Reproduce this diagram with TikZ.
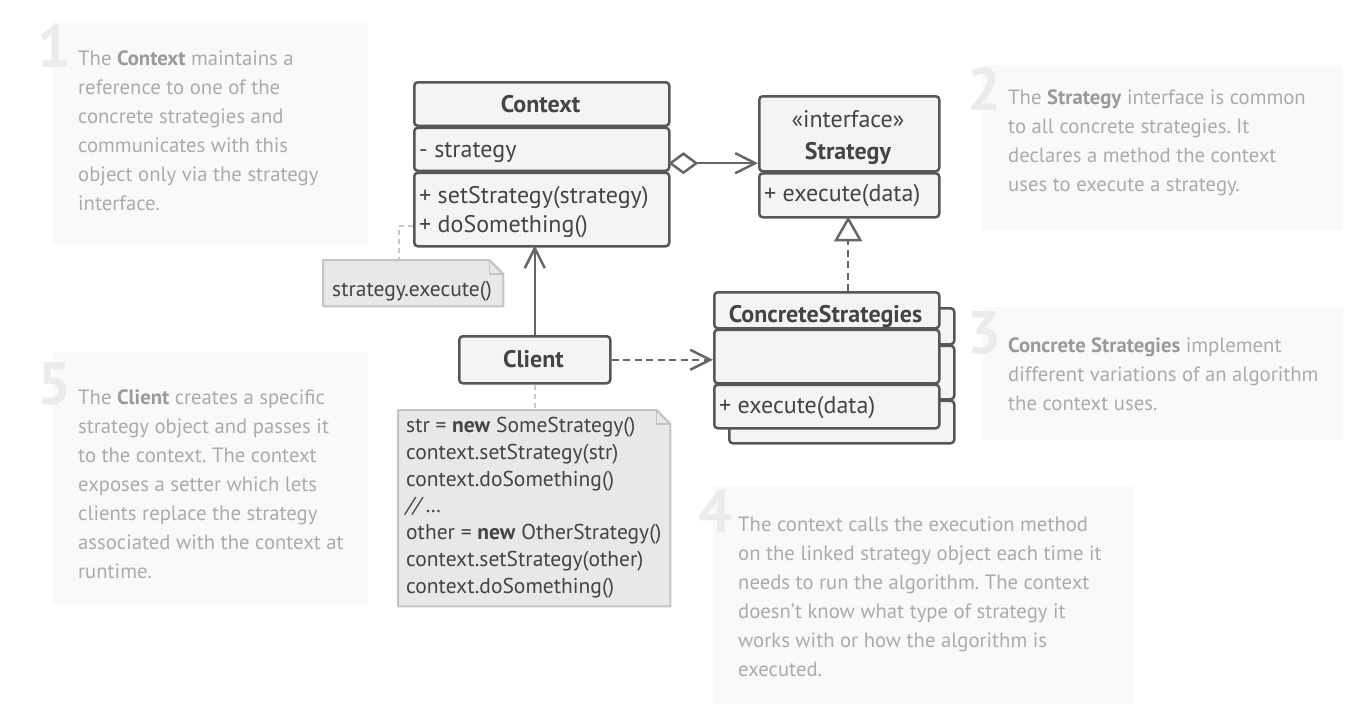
\documentclass[tikz,border=0pt]{standalone}
\usepackage{fontspec}
\setmainfont{PT Sans}
\usetikzlibrary{arrows.meta,calc}
\definecolor{panel}{HTML}{F9F9F9}
\definecolor{numc}{HTML}{EBEBEB}
\definecolor{desc}{HTML}{ABABAB}
\definecolor{descb}{HTML}{9A9A9A}
\definecolor{boxline}{HTML}{575757}
\definecolor{boxfill}{HTML}{F4F4F4}
\definecolor{boxtext}{HTML}{444444}
\definecolor{arrowc}{HTML}{666666}
\definecolor{notefill}{HTML}{E8E8E8}
\definecolor{noteline}{HTML}{C4C4C4}
\definecolor{linkc}{HTML}{C8C8C8}
\newcommand\dbold[1]{\textcolor{descb}{\textbf{#1}}}
\frenchspacing
\begin{document}
\begin{tikzpicture}[x=1pt,y=-1pt,
  num/.style={anchor=base east, inner sep=0, text=numc, font=\fontsize{60}{60}\selectfont\bfseries},
  desctext/.style={anchor=north west, inner sep=0, align=left, text=desc, font=\fontsize{20.7}{29}\selectfont\frenchspacing},
  comp/.style={draw=boxline, line width=2.5pt, fill=boxfill, rounded corners=3.5pt, inner sep=0, anchor=north west},
  frame/.style={inner sep=0, anchor=north west},
  umltext/.style={text=boxtext, inner sep=0, font=\fontsize{24}{29}\selectfont},
  umlbold/.style={umltext, font=\fontsize{24}{29}\selectfont\bfseries},
  notebody/.style={draw=noteline, line width=2pt, fill=notefill, line join=round},
  notetext/.style={text=boxtext, inner sep=0, anchor=north west, align=left, font=\fontsize{21.5}{26.8}\selectfont},
  conn/.style={draw=arrowc, line width=2.5pt},
  dashconn/.style={conn, dash pattern=on 7pt off 4.5pt},
  notelink/.style={draw=linkc, line width=2pt, dash pattern=on 5pt off 4pt},
  openhead/.style={-{Straight Barb[length=20pt,width=20pt,line width=2.5pt]}}
]
\useasboundingbox (0,0) rectangle (1367,704);

% description panels
\fill[panel] (53,21) rectangle (368,245);
\fill[panel] (983,65) rectangle (1343,230);
\fill[panel] (983,307) rectangle (1343,440);
\fill[panel] (713,486) rectangle (1133,704);
\fill[panel] (53,352) rectangle (368,605);

\node[num] (n1) at (72,67) {1};
\node[num] (n2) at (1002,110) {2};
\node[num] (n3) at (1002,353) {3};
\node[num] (n4) at (733,532) {4};
\node[num] (n5) at (72,404) {5};

\node[desctext] (d1) at (78,51) {The \dbold{Context} maintains a\\reference to one of the\\concrete strategies and\\communicates with this\\object only via the strategy\\interface.};
\node[desctext] (d2) at (1008,90) {The \dbold{Strategy} interface is common\\to all concrete strategies. It\\declares a method the context\\uses to execute a strategy.};
\node[desctext] (d3) at (1008,338) {\dbold{Concrete Strategies} implement\\different variations of an algorithm\\the context uses.};
\node[desctext] (d4) at (738,517) {The context calls the execution method\\on the linked strategy object each time it\\needs to run the algorithm. The context\\doesn’t know what type of strategy it\\works with or how the algorithm is\\executed.};
\node[desctext] (d5) at (78,390) {The \dbold{Client} creates a specific\\strategy object and passes it\\to the context. The context\\exposes a setter which lets\\clients replace the strategy\\associated with the context at\\runtime.};

% Context class
\node[comp, minimum width=255pt, minimum height=43.5pt] (ctxa) at (413,81) {};
\node[comp, minimum width=255pt, minimum height=43pt] (ctxb) at (413,126.5) {};
\node[comp, minimum width=255pt, minimum height=73.5pt] (ctxc) at (413,171.5) {};
\node[frame, minimum width=255pt, minimum height=164pt] (ctx) at (413,81) {};
\node[umlbold, anchor=base] (ctxname) at (540.5,112) {Context};
\node[umltext, anchor=base west] (ctxattr) at (419,157) {- strategy};
\node[umltext, anchor=base west] (ctxset) at (419,203) {+ setStrategy(strategy)};
\node[umltext, anchor=base west] (ctxdo) at (419,232) {+ doSomething()};

% Strategy interface
\node[comp, minimum width=180pt, minimum height=75pt] (stra) at (758,95) {};
\node[comp, minimum width=180pt, minimum height=44pt] (strb) at (758,172) {};
\node[frame, minimum width=180pt, minimum height=121pt] (strat) at (758,95) {};
\node[umltext, anchor=base] (stereo) at (848,127) {«interface»};
\node[umlbold, anchor=base] (stratname) at (848,159) {Strategy};
\node[umltext, anchor=base west] (stratop) at (764,201) {+ execute(data)};

% ConcreteStrategies (stacked)
\node[comp, minimum width=225pt, minimum height=36pt] (csba) at (728,307) {};
\node[comp, minimum width=225pt, minimum height=53.5pt] (csbb) at (728,344.5) {};
\node[comp, minimum width=225pt, minimum height=42.5pt] (csbc) at (728,399.5) {};
\node[comp, minimum width=225pt, minimum height=36pt] (csa) at (713,291) {};
\node[comp, minimum width=225pt, minimum height=53.5pt] (csb) at (713,328.5) {};
\node[comp, minimum width=225pt, minimum height=43.5pt] (csc) at (713,383.5) {};
\node[frame, minimum width=225pt, minimum height=136pt] (cs) at (713,291) {};
\node[umlbold, anchor=base] (csname) at (825.5,322) {ConcreteStrategies};
\node[umltext, anchor=base west] (csop) at (719,413) {+ execute(data)};

% Client
\node[comp, minimum width=151pt, minimum height=47pt] (client) at (458,335) {};
\node[umlbold, anchor=base] (clientname) at (533.5,367) {Client};

% notes
\node[frame, minimum width=180pt, minimum height=46pt] (note1) at (323,260) {};
\draw[notebody] (note1.north west) -- ($(note1.north east)+(-14,0)$) -- ($(note1.north east)+(0,14)$) -- (note1.south east) -- (note1.south west) -- cycle;
\draw[draw=noteline, line width=1.5pt] ($(note1.north east)+(-14,0)$) |- ($(note1.north east)+(0,14)$);
\node[notetext, anchor=base west] (note1text) at (332,296) {strategy.execute()};

\node[frame, minimum width=272pt, minimum height=196pt] (note2) at (398,410) {};
\draw[notebody] (note2.north west) -- ($(note2.north east)+(-14,0)$) -- ($(note2.north east)+(0,14)$) -- (note2.south east) -- (note2.south west) -- cycle;
\draw[draw=noteline, line width=1.5pt] ($(note2.north east)+(-14,0)$) |- ($(note2.north east)+(0,14)$);
\node[notetext] (note2text) at (406,417) {str = \textbf{new} SomeStrategy()\\context.setStrategy(str)\\context.doSomething()\\\textit{// …}\\other = \textbf{new} OtherStrategy()\\context.setStrategy(other)\\context.doSomething()};

% connectors
\draw[conn, {Diamond[open,length=30pt,width=22pt,line width=2.5pt]}-{Straight Barb[length=20pt,width=20pt,line width=2.5pt]}] (ctx.east) -- (ctx.east -| strat.west);
\draw[dashconn, -{Triangle[open,length=25pt,width=28pt,line width=2.5pt]}] (strat.south |- cs.north) -- (strat.south);
\draw[conn, openhead] (client.north) -- (client.north |- ctx.south);
\draw[dashconn, openhead] (client.east) -- (client.east -| cs.west);
\draw[notelink] (ctx.west |- ctxdo) -| ($(note1.north west)+(76,0)$);
\draw[notelink] (client.south) -- (client.south |- note2.north);
\end{tikzpicture}
\end{document}
